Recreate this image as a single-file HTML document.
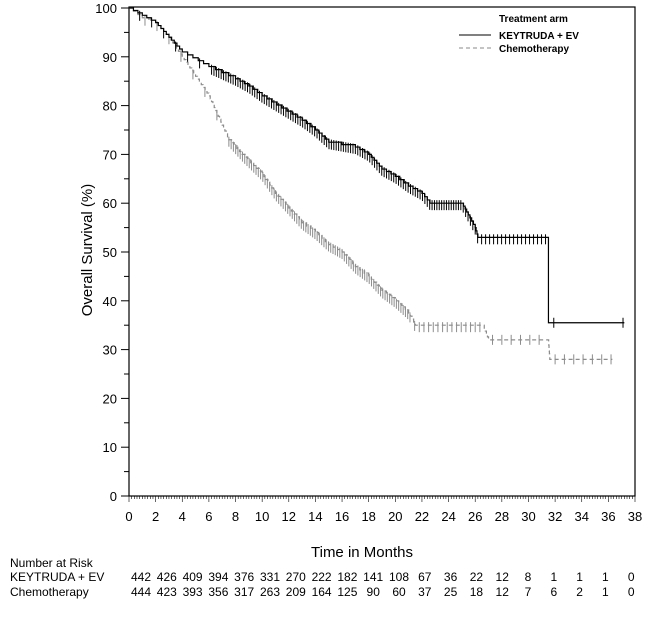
<!DOCTYPE html>
<html><head><meta charset="utf-8"><style>
body{margin:0;background:#fff;width:657px;height:633px;overflow:hidden}
text{font-family:"Liberation Sans",Arial,sans-serif}
</style></head><body>
<svg id="s" width="657" height="633" xmlns="http://www.w3.org/2000/svg"></svg>
<script>
const s=document.getElementById('s');
const X0=129,XS=(635-129)/38,Y0=496,YS=4.88;
const X=m=>X0+m*XS, Y=v=>Y0-v*YS;
let h='';
h+=`<rect x="129" y="7" width="506" height="489" fill="none" stroke="#000" stroke-width="1.2"/>`;
for(let v=0;v<=100;v+=5){const y=Y(v);h+=`<line x1="${v%10?124:121}" y1="${y}" x2="129" y2="${y}" stroke="#000"/>`;if(v%10==0)h+=`<text x="117" y="${y+5}" font-size="13" text-anchor="end">${v}</text>`;}
for(let i=0;i<=190;i++){const m=i*0.2,x=X(m);h+=`<line x1="${x}" y1="496" x2="${x}" y2="${i%10==0?502:499}" stroke="#000" stroke-width="0.6"/>`;}
for(let m=0;m<=38;m+=2)h+=`<text x="${X(m)}" y="521" font-size="13" text-anchor="middle">${m}</text>`;
h+=`<text x="362" y="557" font-size="15" text-anchor="middle">Time in Months</text>`;
h+=`<text transform="translate(92,250) rotate(-90)" font-size="15" text-anchor="middle">Overall Survival (%)</text>`;
h+=`<text x="499" y="22" font-size="10" font-weight="bold">Treatment arm</text>`;
h+=`<line x1="459" y1="35" x2="491" y2="35" stroke="#000"/><text x="499" y="39" font-size="10" font-weight="bold">KEYTRUDA + EV</text>`;
h+=`<line x1="459" y1="48" x2="491" y2="48" stroke="#888" stroke-dasharray="4,3"/><text x="499" y="52" font-size="10" font-weight="bold">Chemotherapy</text>`;
function curve(pts,col,dash,cens){
 let d=`M${X(0)},${Y(100)}`;
 for(let k=1;k<pts.length;k++){const [m0,v0]=pts[k-1],[m1,v1]=pts[k];
  const n=Math.max(1,Math.round((v0-v1)/0.6));
  for(let j=1;j<=n;j++){const m=m0+(m1-m0)*j/n,v=v0+(v1-v0)*j/n;d+=`H${X(m)}V${Y(v)}`;}
  if(v0==v1)d+=`H${X(m1)}`;
 }
 h+=`<path d="${d}" fill="none" stroke="${col}" stroke-width="1.2" ${dash?'stroke-dasharray="4,3"':''}/>`;
 for(const [m,v] of cens){h+=`<line x1="${X(m)}" y1="${Y(v)-5}" x2="${X(m)}" y2="${Y(v)+5}" stroke="${col}" stroke-width="1"/>`;}
}
function interp(pts,m){for(let k=1;k<pts.length;k++){if(m<=pts[k][0]){const [a,b]=pts[k-1],[c,d]=pts[k];return b+(d-b)*(m-a)/(c-a);}}return pts[pts.length-1][1];}
const K=[[0,100],[1,98.5],[2,97],[4,91],[6,88],[8,85.5],[9,84],[10,82],[11.5,79.5],[13,77],[14,75],[15,72.5],[17,71.5],[18,70],[19,67],[20,65.5],[21,63.5],[22,62],[22.6,60],[25,60],[25.6,57],[26,55],[26.2,53],[31.5,53],[31.5,35.5],[37.2,35.5]];
const C=[[0,100],[1,98],[2,97],[3,94],[4,90],[5,86],[6,82],[6.5,79],[7,76],[7.5,73],[8.5,70],[10,66],[11,62],[12,59],[13,56],[14,54],[15,51.5],[16,50],[17,47],[18,45],[19,42],[20,40],[21,37.5],[21.5,35],[26.6,35],[27,32],[31.5,32],[31.6,28],[36.3,28]];
let kc=[],cc=[];
for(let m=0.8;m<31.3;m+= (m<6?0.9:(m<26?0.18:0.3))){kc.push([m,interp(K,m)-0.4]);}
kc.push([31.9,35.5],[37.1,35.5]);
for(let m=1.2;m<26.5;m+=(m<7?0.9:(m<21?0.17:0.35))){cc.push([m,interp(C,m)-0.4]);}
for(let m=27.3;m<31.4;m+=0.7)cc.push([m,32]);
for(let m=32;m<36.3;m+=0.7)cc.push([m,28]);
curve(C,'#8c8c8c',true,cc);
curve(K,'#000',false,kc);
h+=`<text x="10" y="567" font-size="12">Number at Risk</text>`;
h+=`<text x="10" y="581" font-size="12">KEYTRUDA + EV</text>`;
h+=`<text x="10" y="596" font-size="12">Chemotherapy</text>`;
const r1=[442,426,409,394,376,331,270,222,182,141,108,67,36,22,12,8,1,1,1,0];
const r2=[444,423,393,356,317,263,209,164,125,90,60,37,25,18,12,7,6,2,1,0];
r1.forEach((v,i)=>{const x=141+i*25.8;h+=`<text x="${x}" y="581" font-size="12" text-anchor="middle">${v}</text>`;h+=`<text x="${x}" y="596" font-size="12" text-anchor="middle">${r2[i]}</text>`;});
s.innerHTML=h;
</script>
</body></html>
